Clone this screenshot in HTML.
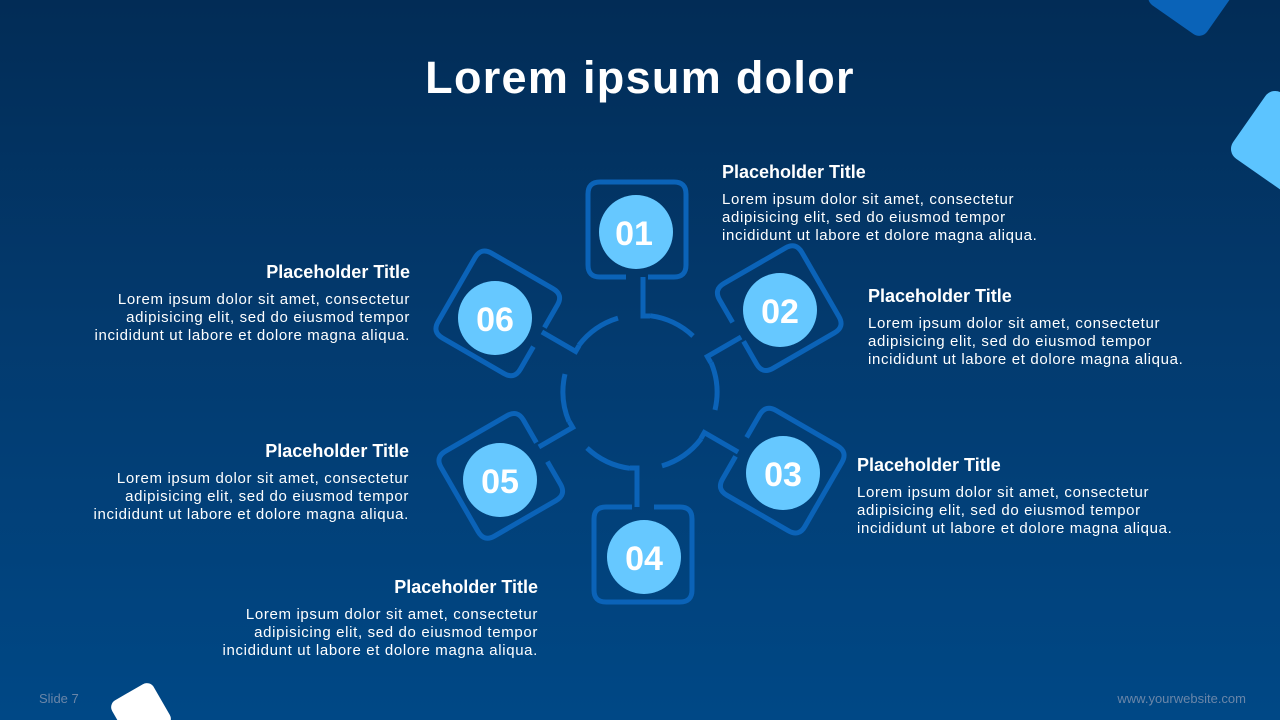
<!DOCTYPE html>
<html><head><meta charset="utf-8"><style>
*{margin:0;padding:0;box-sizing:border-box}
body{width:1280px;height:720px;overflow:hidden;position:relative;font-family:"Liberation Sans",sans-serif;
background:linear-gradient(180deg,#022c56 0%,#033a6e 45%,#004886 100%);color:#fff}
.t{position:absolute;font-size:45px;font-weight:bold;left:0;width:1280px;text-align:center;top:52px;letter-spacing:1.3px}
.b{position:absolute;width:420px}
.b h3{font-size:18px;font-weight:bold;line-height:22px;margin-bottom:8px}
.b p{font-size:15px;line-height:18px;letter-spacing:0.65px}
.r{text-align:right}
.f{position:absolute;font-size:13px;color:#6a86a8}
</style></head><body>
<svg width="1280" height="720" style="position:absolute;left:0;top:0">
<rect x="1158" y="-44" width="70" height="70" rx="10" fill="#0a63b8" transform="rotate(35 1193 -9)"/>
<rect x="1242" y="102" width="80" height="80" rx="12" fill="#5cc4ff" transform="rotate(35 1282 142)"/>
<rect x="117" y="689" width="48" height="48" rx="8" fill="#fff" transform="rotate(-30 141 713)"/>
<defs>
<g id="arm" fill="none" stroke="#0b63b8" stroke-width="5" stroke-linecap="butt">
<path d="M648,277 H674 Q686,277 686,265 V194 Q686,182 674,182 H600 Q588,182 588,194 V265 Q588,277 600,277 H626"/>
<path d="M643,277 V316 H650"/>
<path d="M650,315.7 A77 77 0 0 1 693,336"/>
</g>
</defs>
<use href="#arm"/>
<use href="#arm" transform="rotate(60 640 392)"/>
<use href="#arm" transform="rotate(120 640 392)"/>
<use href="#arm" transform="rotate(180 640 392)"/>
<use href="#arm" transform="rotate(240 640 392)"/>
<use href="#arm" transform="rotate(300 640 392)"/>
<g fill="#66c8ff">
<circle cx="636" cy="232" r="37"/><circle cx="780" cy="310" r="37"/><circle cx="783" cy="473" r="37"/>
<circle cx="644" cy="557" r="37"/><circle cx="500" cy="480" r="37"/><circle cx="495" cy="318" r="37"/>
</g>
<g fill="#fff" font-family="Liberation Sans" font-weight="bold" font-size="34" text-anchor="middle">
<text x="634" y="245">01</text><text x="780" y="323">02</text><text x="783" y="486">03</text>
<text x="644" y="570">04</text><text x="500" y="493">05</text><text x="495" y="331">06</text>
</g>
</svg>
<div class="t">Lorem ipsum dolor</div>
<div class="b" style="left:722px;top:161px"><h3>Placeholder Title</h3><p>Lorem ipsum dolor sit amet, consectetur<br>adipisicing elit, sed do eiusmod tempor<br>incididunt ut labore et dolore magna aliqua.</p></div>
<div class="b" style="left:868px;top:285px"><h3>Placeholder Title</h3><p>Lorem ipsum dolor sit amet, consectetur<br>adipisicing elit, sed do eiusmod tempor<br>incididunt ut labore et dolore magna aliqua.</p></div>
<div class="b" style="left:857px;top:454px"><h3>Placeholder Title</h3><p>Lorem ipsum dolor sit amet, consectetur<br>adipisicing elit, sed do eiusmod tempor<br>incididunt ut labore et dolore magna aliqua.</p></div>
<div class="b r" style="left:-10px;top:261px"><h3>Placeholder Title</h3><p>Lorem ipsum dolor sit amet, consectetur<br>adipisicing elit, sed do eiusmod tempor<br>incididunt ut labore et dolore magna aliqua.</p></div>
<div class="b r" style="left:-11px;top:440px"><h3>Placeholder Title</h3><p>Lorem ipsum dolor sit amet, consectetur<br>adipisicing elit, sed do eiusmod tempor<br>incididunt ut labore et dolore magna aliqua.</p></div>
<div class="b r" style="left:118px;top:576px"><h3>Placeholder Title</h3><p>Lorem ipsum dolor sit amet, consectetur<br>adipisicing elit, sed do eiusmod tempor<br>incididunt ut labore et dolore magna aliqua.</p></div>
<div class="f" style="left:39px;top:691px">Slide 7</div>
<div class="f" style="right:34px;top:691px">www.yourwebsite.com</div>
</body></html>
